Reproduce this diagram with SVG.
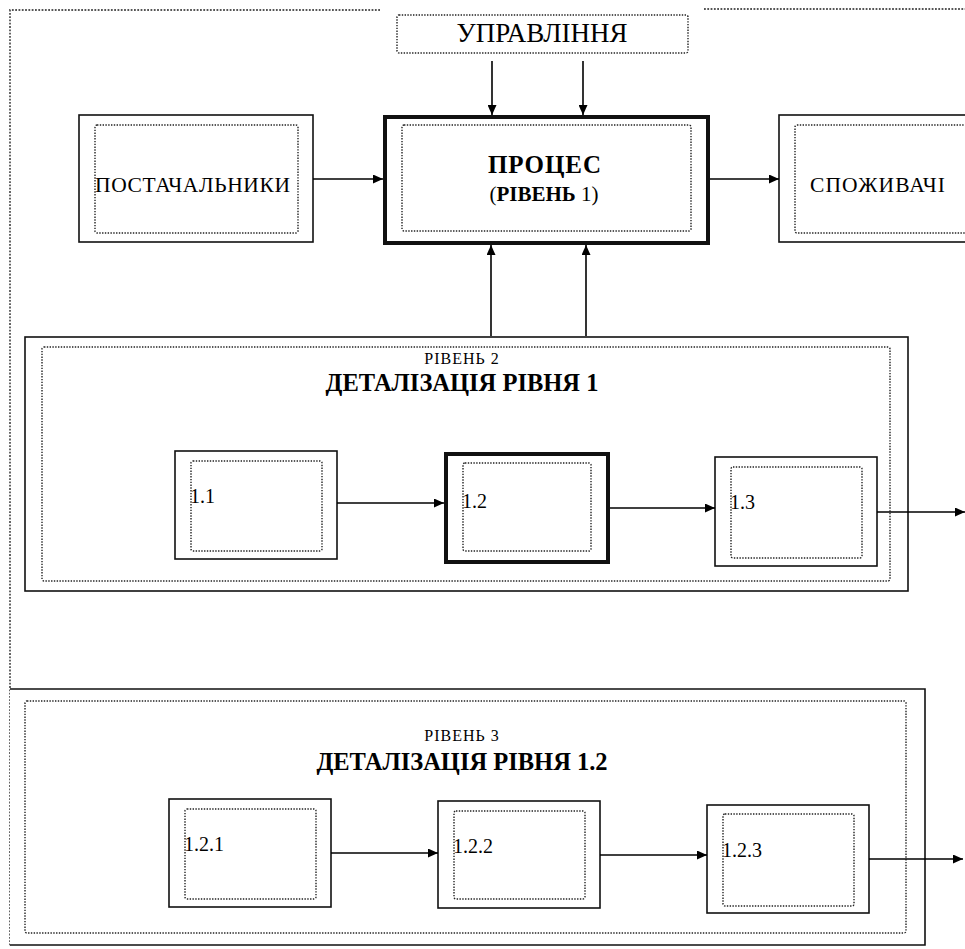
<svg xmlns="http://www.w3.org/2000/svg" width="965" height="949" viewBox="0 0 965 949">
<style>
.solid{fill:#fff;stroke:#111;stroke-width:1.6}
.thick{fill:#fff;stroke:#111;stroke-width:4}
.dot{fill:none;stroke:#222;stroke-width:1.4;stroke-dasharray:1.4,1.4}
.frame{fill:none;stroke:#555;stroke-width:1.8;stroke-dasharray:1.8,1.5}
.t{font-family:"Liberation Serif","Times New Roman",serif;fill:#000}
.c line{stroke:#000;stroke-width:1.6;marker-end:url(#ah)}
</style>
<defs>
<marker id="ah" markerUnits="userSpaceOnUse" markerWidth="11" markerHeight="9" refX="10" refY="4.5" orient="auto">
<path d="M0,0 L10,4.5 L0,9 z" fill="#000"/>
</marker>
</defs>
<rect width="965" height="949" fill="#fff"/>
<g id="frame">
<path class="frame" d="M380,10 H10 V946"/>
<path class="frame" d="M704,9 H965"/>
</g>
<g id="level2">
<rect class="solid" x="25" y="337" width="883" height="254"/>
<rect class="dot" x="42" y="347" width="848" height="234" rx="2"/>
<text class="t" x="462" y="364" font-size="16" text-anchor="middle" letter-spacing="1">РІВЕНЬ 2</text>
<text class="t" x="462" y="391" font-size="24.5" font-weight="bold" text-anchor="middle">ДЕТАЛІЗАЦІЯ РІВНЯ 1</text>
</g>
<g id="level3">
<path class="solid" d="M10,689 H925 V945 H10" fill="none"/>
<rect class="dot" x="25" y="701" width="881" height="232" rx="2"/>
<text class="t" x="462" y="741" font-size="16" text-anchor="middle" letter-spacing="1">РІВЕНЬ 3</text>
<text class="t" x="462" y="770" font-size="24.5" font-weight="bold" text-anchor="middle">ДЕТАЛІЗАЦІЯ РІВНЯ 1.2</text>
</g>
<g id="upravlinnia">
<rect class="dot" x="397" y="15" width="291" height="38" rx="2"/>
<text class="t" x="542" y="42" font-size="27" text-anchor="middle">УПРАВЛІННЯ</text>
</g>
<g id="postachalnyky">
<rect class="solid" x="79" y="115" width="234" height="127"/>
<rect class="dot" x="95" y="125" width="203" height="108" rx="2"/>
<text class="t" x="95" y="192" font-size="21.5" textLength="195">ПОСТАЧАЛЬНИКИ</text>
</g>
<g id="proces">
<rect class="thick" x="385" y="117" width="323" height="126"/>
<rect class="dot" x="402" y="125" width="289" height="106" rx="2"/>
<text class="t" x="545" y="173" font-size="25" font-weight="bold" text-anchor="middle" letter-spacing="1">ПРОЦЕС</text>
<text class="t" x="544" y="201" font-size="21" text-anchor="middle">(<tspan font-weight="bold">РІВЕНЬ</tspan> 1)</text>
</g>
<g id="spozhyvachi">
<rect class="solid" x="779" y="115" width="200" height="127"/>
<rect class="dot" x="795" y="125" width="180" height="108" rx="2"/>
<text class="t" x="810" y="192" font-size="21.5" textLength="135">СПОЖИВАЧІ</text>
</g>
<g id="n1_1">
<rect class="solid" x="175" y="451" width="162" height="108"/>
<rect class="dot" x="191" y="461" width="131" height="90" rx="2"/>
<text class="t" x="190" y="503" font-size="20">1.1</text>
</g>
<g id="n1_2">
<rect class="thick" x="446" y="454" width="162" height="108"/>
<rect class="dot" x="463" y="463" width="128" height="88" rx="2"/>
<text class="t" x="462" y="508" font-size="20">1.2</text>
</g>
<g id="n1_3">
<rect class="solid" x="715" y="457" width="162" height="109"/>
<rect class="dot" x="731" y="467" width="131" height="91" rx="2"/>
<text class="t" x="730" y="509" font-size="20">1.3</text>
</g>
<g id="n1_2_1">
<rect class="solid" x="169" y="799" width="162" height="108"/>
<rect class="dot" x="185" y="809" width="131" height="90" rx="2"/>
<text class="t" x="184" y="851" font-size="20">1.2.1</text>
</g>
<g id="n1_2_2">
<rect class="solid" x="438" y="801" width="162" height="107"/>
<rect class="dot" x="454" y="811" width="131" height="88" rx="2"/>
<text class="t" x="453" y="853" font-size="20">1.2.2</text>
</g>
<g id="n1_2_3">
<rect class="solid" x="707" y="805" width="162" height="108"/>
<rect class="dot" x="723" y="814" width="131" height="92" rx="2"/>
<text class="t" x="722" y="857" font-size="20">1.2.3</text>
</g>
<g id="connectors" class="c">
<line x1="492" y1="61" x2="492" y2="115"/>
<line x1="583" y1="61" x2="583" y2="115"/>
<line x1="313" y1="179" x2="383" y2="179"/>
<line x1="710" y1="179" x2="779" y2="179"/>
<line x1="491" y1="336" x2="491" y2="245"/>
<line x1="586" y1="336" x2="586" y2="245"/>
<line x1="337" y1="503" x2="444" y2="503"/>
<line x1="610" y1="508" x2="715" y2="508"/>
<line x1="877" y1="512" x2="965" y2="512"/>
<line x1="331" y1="853" x2="438" y2="853"/>
<line x1="600" y1="855" x2="707" y2="855"/>
<line x1="869" y1="859" x2="963" y2="859"/>
</g>
</svg>
